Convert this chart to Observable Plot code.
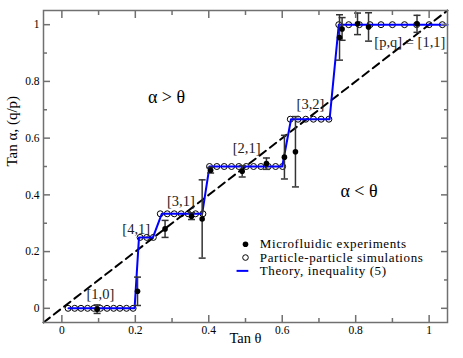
<!DOCTYPE html>
<html><head><meta charset="utf-8">
<script src="https://cdn.jsdelivr.net/npm/d3@7"></script>
<script src="https://cdn.jsdelivr.net/npm/@observablehq/plot@0.6"></script>
<style>
body{margin:0;background:#fff}
#chart svg, #chart svg text{font-family:'Liberation Serif','Times New Roman',serif !important;}
#chart .lg text{letter-spacing:0.6px;}
</style>
</head><body><div id="chart"></div>
<script>
// Axis ticks
const majorTicks = [0, 0.2, 0.4, 0.6, 0.8, 1];
const minorTicks = [0.1, 0.3, 0.5, 0.7, 0.9];
const tickLabels = ["0", "0.2", "0.4", "0.6", "0.8", "1"];

// Theory, inequality (5)
const theoryX = [0.018, 0.198, 0.210, 0.248, 0.272, 0.382, 0.402, 0.600, 0.624, 0.729, 0.754, 1.05];
const theoryY = [0, 0, 0.25, 0.25, 0.3333, 0.3333, 0.5, 0.5, 0.6667, 0.6667, 1, 1];

// Particle-particle simulations
const simX = [0.017, 0.035, 0.052, 0.070, 0.087, 0.105, 0.123, 0.141, 0.158, 0.176, 0.194,
  0.213, 0.231, 0.249,
  0.268, 0.287, 0.306, 0.325, 0.344, 0.364, 0.384,
  0.402, 0.422, 0.442, 0.462, 0.482, 0.502, 0.522, 0.542, 0.562, 0.582, 0.601,
  0.622, 0.643, 0.664, 0.685, 0.706, 0.727,
  0.754, 0.781, 0.810, 0.839, 0.869, 0.900, 0.933, 0.966, 1.0, 1.036];
const simY = [0,0,0,0,0,0,0,0,0,0,0,
  0.25,0.25,0.25,
  0.3333,0.3333,0.3333,0.3333,0.3333,0.3333,0.3333,
  0.5,0.5,0.5,0.5,0.5,0.5,0.5,0.5,0.5,0.5,0.5,
  0.6667,0.6667,0.6667,0.6667,0.6667,0.6667,
  1,1,1,1,1,1,1,1,1,1];

// Microfluidic experiments
const expX   = [0.096, 0.206, 0.281, 0.353, 0.382, 0.405, 0.491, 0.557, 0.606, 0.636, 0.756, 0.763, 0.805, 0.835, 0.967];
const expY   = [-0.003, 0.060, 0.280, 0.325, 0.315, 0.487, 0.483, 0.510, 0.533, 0.552, 0.955, 0.985, 1.003, 0.992, 1.003];
const expErr = [0.015, 0.050, 0.030, 0.012, 0.138, 0.010, 0.020, 0.020, 0.077, 0.124, 0.080, 0.040, 0.038, 0.050, 0.030];

// Annotations
const bracketLabels = ["[1,0]", "[4,1]", "[3,1]", "[2,1]", "[3,2]", "[p,q] = [1,1]"];
const bracketX = [0.105, 0.2025, 0.324, 0.503, 0.677, 0.9475];
const bracketY = [0.048, 0.280, 0.376, 0.5625, 0.718, 0.936];
const regionLabels = ["α > θ", "α < θ"];
const regionX = [0.285, 0.809];
const regionY = [0.743, 0.412];

// Legend
const legendLabels = ["Microfluidic experiments", "Particle-particle simulations", "Theory, inequality (5)"];
const legendSymbolX = 0.5, legendTextX = 0.539, legendTop = 0.226, legendStep = 0.047;

const theory = theoryX.map((x, i) => ({x, y: theoryY[i]}));
const sim = simX.map((x, i) => ({x, y: simY[i]}));
const exp = expX.map((x, i) => ({x, y: expY[i], e: expErr[i]}));
const caps = exp.flatMap(d => [{x: d.x, y: d.y - d.e}, {x: d.x, y: d.y + d.e}]);
const brackets = bracketLabels.map((t, i) => ({t, x: bracketX[i], y: bracketY[i]}));
const regions = regionLabels.map((t, i) => ({t, x: regionX[i], y: regionY[i]}));
const legend = legendLabels.map((t, i) => ({t, y: legendTop - i * legendStep}));
const diag = [-0.05, 1.05];

const capSymbol = {draw(ctx, size) { const r = Math.sqrt(size / Math.PI); ctx.moveTo(-r, 0); ctx.lineTo(r, 0); }};
const serif = "'Liberation Serif','Times New Roman',serif";
const frameColor = "#707070";
const lbl = d => tickLabels[majorTicks.indexOf(d)];
const blank = () => "";

const chart = Plot.plot({
  width: 463, height: 358,
  marginLeft: 43, marginRight: 16, marginTop: 10, marginBottom: 36,
  x: {domain: [-0.05, 1.05]},
  y: {domain: [-0.05, 1.05]},
  style: {fontFamily: serif, fontSize: "11.5px", background: "#fff", color: "#000"},
  marks: [
    Plot.line(diag, {x: d => d, y: d => d, stroke: "#000", strokeWidth: 2, strokeDasharray: "8,5"}),
    Plot.dot(sim, {x: "x", y: "y", r: 3, stroke: "#000", strokeWidth: 1, fill: "none"}),
    Plot.line(theory, {x: "x", y: "y", stroke: "#0000ff", strokeWidth: 2}),
    Plot.ruleX(exp, {x: "x", y1: d => d.y - d.e, y2: d => d.y + d.e, stroke: "#333", strokeWidth: 1.5}),
    Plot.dot(caps, {x: "x", y: "y", r: 3.5, symbol: capSymbol, stroke: "#333", strokeWidth: 1.5, fill: "none"}),
    Plot.dot(exp, {x: "x", y: "y", r: 2.8, fill: "#000", stroke: "none"}),
    Plot.text(brackets, {x: "x", y: "y", text: "t", fontSize: 14.5, fill: "#222", fontFamily: serif}),
    Plot.text(regions, {x: "x", y: "y", text: "t", fontSize: 18, fill: "#000", fontFamily: serif}),
    // legend
    Plot.dot(legend.slice(0, 1), {x: () => legendSymbolX, y: "y", r: 2.8, fill: "#000", stroke: "none"}),
    Plot.dot(legend.slice(1, 2), {x: () => legendSymbolX, y: "y", r: 2.8, stroke: "#000", strokeWidth: 1, fill: "none"}),
    Plot.ruleY(legend.slice(2, 3), {y: "y", x1: () => legendSymbolX - 0.023, x2: () => legendSymbolX + 0.009, stroke: "#0000ff", strokeWidth: 2}),
    Plot.text(legend, {x: () => legendTextX, y: "y", text: "t", textAnchor: "start", fontSize: 13, fill: "#000", fontFamily: serif, className: "lg"}),
    // axis titles
    Plot.text(["Tan θ"], {frameAnchor: "bottom", dy: 20, text: d => d, fontSize: 14.5, fontFamily: serif}),
    Plot.text(["Tan α, (q/p)"], {frameAnchor: "left", dx: -31, rotate: -90, text: d => d, fontSize: 15, fontFamily: serif}),
    Plot.frame({stroke: frameColor, strokeWidth: 1.5}),
    // axes: labels
    Plot.axisX({ticks: majorTicks, anchor: "bottom", tickSize: 0, tickPadding: 3, tickFormat: lbl, label: null, fontFamily: serif}),
    Plot.axisY({ticks: majorTicks, anchor: "left", tickSize: 0, tickPadding: 4, tickFormat: lbl, label: null, fontFamily: serif}),
    // inward ticks on all sides
    Plot.axisX({ticks: majorTicks, anchor: "bottom", tickSize: -7, tickFormat: blank, label: null, stroke: frameColor, strokeWidth: 1.5}),
    Plot.axisX({ticks: minorTicks, anchor: "bottom", tickSize: -4, tickFormat: blank, label: null, stroke: frameColor, strokeWidth: 1.5}),
    Plot.axisX({ticks: majorTicks, anchor: "top", tickSize: -7, tickFormat: blank, label: null, stroke: frameColor, strokeWidth: 1.5}),
    Plot.axisX({ticks: minorTicks, anchor: "top", tickSize: -4, tickFormat: blank, label: null, stroke: frameColor, strokeWidth: 1.5}),
    Plot.axisY({ticks: majorTicks, anchor: "left", tickSize: -7, tickFormat: blank, label: null, stroke: frameColor, strokeWidth: 1.5}),
    Plot.axisY({ticks: minorTicks, anchor: "left", tickSize: -4, tickFormat: blank, label: null, stroke: frameColor, strokeWidth: 1.5}),
    Plot.axisY({ticks: majorTicks, anchor: "right", tickSize: -7, tickFormat: blank, label: null, stroke: frameColor, strokeWidth: 1.5}),
    Plot.axisY({ticks: minorTicks, anchor: "right", tickSize: -4, tickFormat: blank, label: null, stroke: frameColor, strokeWidth: 1.5})
  ]
});
document.getElementById("chart").appendChild(chart);
</script>
</body></html>
